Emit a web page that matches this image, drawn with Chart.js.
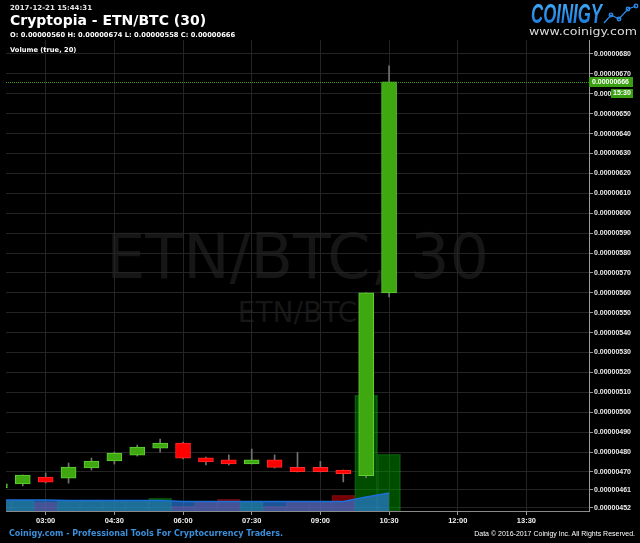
<!DOCTYPE html>
<html><head><meta charset="utf-8">
<script src="https://cdn.jsdelivr.net/npm/chart.js@4.4.1/dist/chart.umd.min.js"></script>
<style>
html,body{margin:0;padding:0;background:#000;width:640px;height:543px;overflow:hidden;}
#wm,#ov,#c{position:absolute;left:0;top:0;}
</style></head><body>
<svg id="wm" width="640" height="543">
 <text x="297.5" y="278" text-anchor="middle" font-family="DejaVu Sans" font-size="62" fill="#161616">ETN/BTC, 30</text>
 <text x="297.5" y="322" text-anchor="middle" font-family="DejaVu Sans" font-size="28" fill="#161616">ETN/BTC</text>
</svg>
<canvas id="c" width="640" height="543"></canvas>
<svg id="ov" width="640" height="543">
 <defs><linearGradient id="lg" x1="0" y1="0" x2="0" y2="1"><stop offset="0" stop-color="#45b4ff"/><stop offset="1" stop-color="#1670d8"/></linearGradient></defs>
 <text x="10" y="10" font-family="DejaVu Sans" font-weight="bold" font-size="7" fill="#e6e6e6">2017-12-21 15:44:31</text>
 <text x="10" y="25" font-family="DejaVu Sans" font-weight="bold" font-size="14" fill="#ffffff">Cryptopia - ETN/BTC (30)</text>
 <text x="10" y="37" font-family="DejaVu Sans" font-weight="bold" font-size="6.7" fill="#ffffff">O: 0.00000560 H: 0.00000674 L: 0.00000558 C: 0.00000666</text>
 <text x="10" y="52" font-family="DejaVu Sans" font-weight="bold" font-size="6.7" fill="#ffffff">Volume (true, 20)</text>
 <text x="531" y="23" font-family="Liberation Sans" font-weight="bold" font-style="italic" font-size="28" fill="url(#lg)" textLength="71" lengthAdjust="spacingAndGlyphs">COINIGY</text>
 <text x="529" y="35" font-family="DejaVu Sans" font-size="11" fill="#dddddd" textLength="108" lengthAdjust="spacingAndGlyphs">www.coinigy.com</text>
 <g stroke="#2a8ae8" stroke-width="1.3" fill="none">
  <polyline points="604,23 611,15 619,19 628,9 636,6"/>
  <circle cx="611" cy="15" r="1.8"/><circle cx="619" cy="19" r="1.8"/><circle cx="628" cy="9" r="1.8"/><circle cx="636" cy="6" r="1.8"/>
 </g>
 <text x="9" y="536" font-family="DejaVu Sans" font-weight="bold" font-size="8" fill="#3b8fd9">Coinigy.com - Professional Tools For Cryptocurrency Traders.</text>
 <text x="635" y="536" text-anchor="end" font-family="Liberation Sans" font-size="7" fill="#ffffff">Data © 2016-2017 Coinigy Inc. All Rights Reserved.</text>
</svg>
<script>
// ---- data (prices in satoshi = 1e-8 BTC) ----
const candleTimes = ['02:00','02:30','03:00','03:30','04:00','04:30','05:00','05:30','06:00','06:30','07:00','07:30','08:00','08:30','09:00','09:30','10:00','10:30'];
const openVals  = [462, 464, 467.4, 466.9, 472, 475.5, 478.5, 482, 484.5, 477.1, 476.1, 474.1, 476.1, 472.3, 472.3, 471, 468.1, 560];
const highVals  = [465, 468.5, 469.5, 474.5, 477, 480, 483.5, 486.5, 485, 477.5, 478.6, 481.5, 478.6, 479.8, 475.3, 471, 560, 674];
const lowVals   = [461, 463, 464.5, 464.4, 471, 474, 478, 480, 476.5, 473.5, 473.5, 474, 472, 470, 470, 465, 467.1, 558];
const closeVals = [464, 468.4, 464.9, 472.5, 475.5, 479.5, 482.5, 484.5, 477, 475.1, 474.1, 476.1, 472.3, 470.1, 470.1, 469.1, 560, 666];
const volumeVals = [10, 11, 9, 10, 11, 10, 10, 13, 5, 10, 12, 10, 5, 10, 10, 16, 116, 57];
const volumeMA20 = [11, 11, 11, 10.5, 10.5, 10.5, 10.5, 10.5, 9.5, 9.5, 9.5, 9.5, 9.5, 9.5, 9.5, 9.5, 14, 18];
const xTickLabels = ['03:00','04:30','06:00','07:30','09:00','10:30','12:00','13:30'];
const yTickValues = [680,670,660,650,640,630,620,610,600,590,580,570,560,550,540,530,520,510,500,490,480,470,461,452];
const lastTimeTag = '15:30';

const toMin = s => { const p = s.split(':'); return (+p[0])*60 + (+p[1]); };
const fmtTime = m => String(Math.floor(m/60)).padStart(2,'0') + ':' + String(m%60).padStart(2,'0');
const fmtPrice = v => (v*1e-8).toFixed(8);
const xs = candleTimes.map(toMin);
const up = closeVals.map((c,i)=> c >= openVals[i]);

const GREEN='#3fa710', GREEN_B='#5fd034', RED='#ff0000', RED_B='#ff2a2a';

const lastTag = {
  id:'lastTag',
  afterDatasetsDraw(chart){
    const {ctx, chartArea:a, scales:{y}} = chart;
    const yp = Math.round(y.getPixelForValue(closeVals[closeVals.length-1])) + 0.5;
    ctx.save();
    ctx.strokeStyle = '#3c9a1c'; ctx.lineWidth = 1; ctx.setLineDash([1,1]);
    ctx.beginPath(); ctx.moveTo(a.left, yp); ctx.lineTo(a.right, yp); ctx.stroke();
    ctx.restore();
  },
  afterDraw(chart){
    const {ctx, chartArea:a, scales:{y}} = chart;
    const yp = Math.round(y.getPixelForValue(closeVals[closeVals.length-1]));
    ctx.save();
    ctx.fillStyle = '#3a9f13';
    ctx.fillRect(a.right, yp-5, 44, 10);
    ctx.fillRect(a.right+22, yp+7, 22, 9);
    ctx.fillStyle = '#ffffff';
    ctx.font = 'bold 7px "Liberation Sans"';
    ctx.textBaseline = 'middle';
    ctx.fillText(fmtPrice(closeVals[closeVals.length-1]), a.right+3, yp);
    ctx.fillText(lastTimeTag, a.right+24, yp+11.5);
    ctx.restore();
  }
};

new Chart(document.getElementById('c'), {
  type: 'bar',
  data: {
    datasets: [
      { label:'body', order:0, grouped:false, clip:0,
        data: xs.map((x,i)=>({x, y:[openVals[i], closeVals[i]]})),
        backgroundColor: up.map(u=>u?GREEN:RED), borderColor: up.map(u=>u?GREEN_B:RED_B),
        borderWidth:1, borderSkipped:false, barThickness:15, minBarLength:1 },
      { label:'wick', order:1, grouped:false, clip:0,
        data: xs.map((x,i)=>({x, y:[lowVals[i], highVals[i]]})),
        backgroundColor:'#737373', borderWidth:0, barThickness:1 },
      { type:'line', label:'Volume MA', order:2, yAxisID:'yv', clip:0,
        data: xs.map((x,i)=>({x, y:volumeMA20[i]})),
        borderColor:'#1b6fd8', borderWidth:1.5, backgroundColor:'rgba(45,128,230,0.65)',
        fill:'origin', pointRadius:0, tension:0 },
      { label:'Volume', order:3, yAxisID:'yv', grouped:false, clip:0,
        data: xs.map((x,i)=>({x, y:volumeVals[i]})),
        backgroundColor: up.map(u=>u?'rgba(0,170,0,0.45)':'rgba(230,0,0,0.5)'),
        borderColor: up.map(u=>u?'rgba(40,200,40,0.3)':'rgba(255,40,40,0.3)'),
        borderWidth:1, borderSkipped:false, barThickness:23 }
    ]
  },
  options: {
    responsive:false, animation:false, devicePixelRatio:1,
    layout:{padding:{left:6, top:40, right:0, bottom:0}},
    plugins:{legend:{display:false}, tooltip:{enabled:false}},
    scales:{
      x:{ type:'linear', min:128, max:892, offset:false,
        afterBuildTicks: s => { s.ticks = xTickLabels.map(t=>({value:toMin(t)})); },
        afterFit: s => { s.height = 32; },
        grid:{color:'#242424', tickColor:'#9a9a9a', tickLength:4, offset:false},
        border:{color:'#8a8a8a'},
        ticks:{color:'#f0f0f0', autoSkip:false, maxRotation:0, padding:1,
          font:{family:'Liberation Sans', size:7.5, weight:'bold'},
          callback: v => fmtTime(v)} },
      y:{ position:'right', min:450.4, max:687.0,
        afterBuildTicks: s => { s.ticks = yTickValues.map(v=>({value:v})); },
        afterFit: s => { s.width = 51; },
        grid:{color:'#242424', tickColor:'#9a9a9a', tickLength:4},
        border:{color:'#9a9a9a'},
        ticks:{color:'#ececec', autoSkip:false, padding:1,
          font:{family:'Liberation Sans', size:7, weight:'bold'},
          callback: v => fmtPrice(v)} },
      yv:{ display:false, min:0, max:471 }
    }
  },
  plugins:[lastTag]
});
</script>
</body></html>
